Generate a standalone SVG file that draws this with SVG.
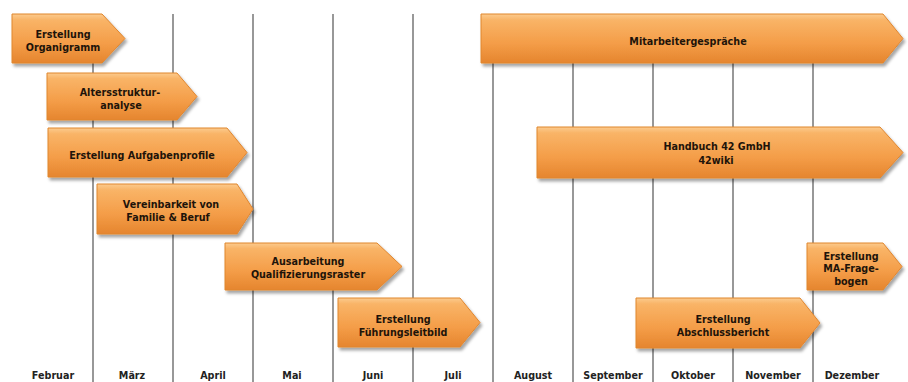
<svg xmlns="http://www.w3.org/2000/svg" width="908" height="382" viewBox="0 0 908 382">
<defs>
<linearGradient id="og" x1="0" y1="0" x2="0" y2="1">
<stop offset="0" stop-color="#FCCB8E"/>
<stop offset="0.12" stop-color="#F9B467"/>
<stop offset="0.6" stop-color="#F49D48"/>
<stop offset="1" stop-color="#E5852E"/>
</linearGradient>
<filter id="sh" x="-10%" y="-20%" width="130%" height="160%">
<feDropShadow dx="2" dy="3" stdDeviation="1.8" flood-color="#000" flood-opacity="0.35"/>
</filter>
</defs>
<style>
.grid line{stroke:#767676;stroke-width:1.5}
.arr{fill:url(#og);stroke:#E0862F;stroke-width:1;filter:url(#sh)}
.t{font-family:"DejaVu Sans",Verdana,sans-serif;font-weight:bold;font-size:9.6px;fill:#1E140A;text-anchor:middle}
.m{font-family:"DejaVu Sans",Verdana,sans-serif;font-weight:bold;font-size:9.6px;fill:#222;text-anchor:middle}
</style>
<rect width="908" height="382" fill="#fff"/>
<g id="grid" class="grid">
<line x1="93" y1="14" x2="93" y2="382"/>
<line x1="173" y1="14" x2="173" y2="382"/>
<line x1="253" y1="14" x2="253" y2="382"/>
<line x1="333" y1="14" x2="333" y2="382"/>
<line x1="413" y1="14" x2="413" y2="382"/>
<line x1="493" y1="14" x2="493" y2="382"/>
<line x1="573" y1="14" x2="573" y2="382"/>
<line x1="653" y1="14" x2="653" y2="382"/>
<line x1="733" y1="14" x2="733" y2="382"/>
<line x1="813" y1="14" x2="813" y2="382"/>
</g>
<g id="months">
<text class="m" x="53" y="379">Februar</text>
<text class="m" x="132" y="379">März</text>
<text class="m" x="213" y="379">April</text>
<text class="m" x="292" y="379">Mai</text>
<text class="m" x="373" y="379">Juni</text>
<text class="m" x="453" y="379">Juli</text>
<text class="m" x="533" y="379">August</text>
<text class="m" x="613" y="379">September</text>
<text class="m" x="693" y="379">Oktober</text>
<text class="m" x="773" y="379">November</text>
<text class="m" x="852" y="379">Dezember</text>
</g>
<g id="connectors"></g>
<g id="n-organigramm">
<polygon class="arr" points="12,14 102,14 125,38.5 102,63 12,63"/>
<text class="t" x="63" y="37.5">Erstellung</text>
<text class="t" x="63" y="50.5">Organigramm</text>
</g>
<g id="n-altersstruktur">
<polygon class="arr" points="47,73 177,73 197,96.5 177,120 47,120"/>
<text class="t" x="120" y="95.5">Altersstruktur-</text>
<text class="t" x="121" y="108.5">analyse</text>
</g>
<g id="n-aufgabenprofile">
<polygon class="arr" points="48,128 227,128 247,152.5 227,177 48,177"/>
<text class="t" x="142" y="158.5">Erstellung Aufgabenprofile</text>
</g>
<g id="n-vereinbarkeit">
<polygon class="arr" points="97,184 237,184 253,209 237,234 97,234"/>
<text class="t" x="171" y="207.5">Vereinbarkeit von</text>
<text class="t" x="168" y="220.5">Familie &amp; Beruf</text>
</g>
<g id="n-qualifizierung">
<polygon class="arr" points="225,243 377,243 402,266.5 377,290 225,290"/>
<text class="t" x="308" y="265">Ausarbeitung</text>
<text class="t" x="308" y="278">Qualifizierungsraster</text>
</g>
<g id="n-fuehrungsleitbild">
<polygon class="arr" points="338,298 460,298 480,322.5 460,347 338,347"/>
<text class="t" x="403" y="322.5">Erstellung</text>
<text class="t" x="403" y="336">Führungsleitbild</text>
</g>
<g id="n-mitarbeitergespraeche">
<polygon class="arr" points="481,14 883,14 903,38.5 883,63 481,63"/>
<text class="t" x="688" y="44.5">Mitarbeitergespräche</text>
</g>
<g id="n-handbuch">
<polygon class="arr" points="537,127 880,127 903,152.5 880,178 537,178"/>
<text class="t" x="717" y="150">Handbuch 42 GmbH</text>
<text class="t" x="716" y="163.5">42wiki</text>
</g>
<g id="n-mafragebogen">
<polygon class="arr" points="807,243 883,243 902,266.5 883,290 807,290"/>
<text class="t" x="851" y="259.5">Erstellung</text>
<text class="t" x="851" y="272">MA-Frage-</text>
<text class="t" x="851" y="284.5">bogen</text>
</g>
<g id="n-abschlussbericht">
<polygon class="arr" points="636,298 800,298 820,323 800,348 636,348"/>
<text class="t" x="723" y="322.5">Erstellung</text>
<text class="t" x="723" y="335.5">Abschlussbericht</text>
</g>
</svg>
